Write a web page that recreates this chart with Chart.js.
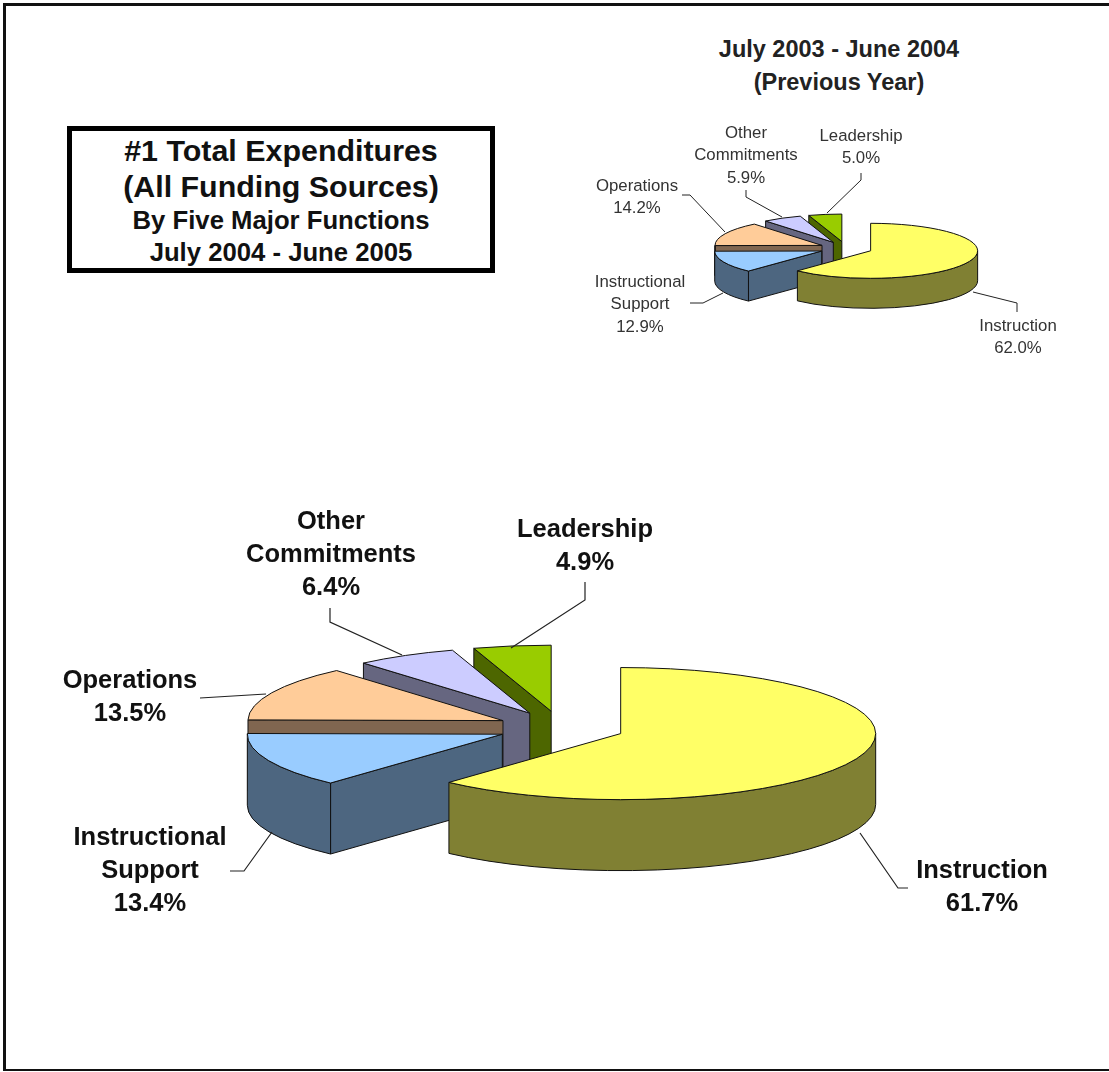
<!DOCTYPE html>
<html><head><meta charset="utf-8">
<script src="https://cdn.jsdelivr.net/npm/chart.js@4"></script>
<style>
html,body{margin:0;padding:0;background:#fff;overflow:hidden}
#page{position:relative;width:1109px;height:1072px;overflow:hidden;background:#fff;font-family:"Liberation Sans",Arial,sans-serif;color:#111;filter:blur(.55px)}
canvas{position:absolute;left:0;top:0}
.frame{position:absolute;background:#111}
#box{position:absolute;left:67px;top:126px;width:418px;height:137px;border:5px solid #000;background:#fff;text-align:center;font-weight:bold}
.t{position:absolute;left:0;right:0;white-space:nowrap}
.prev{position:absolute;left:639px;width:400px;text-align:center;font-weight:bold;font-size:23.5px;line-height:26px;color:#222}
</style></head><body>
<div id="page">
<div class="frame" style="left:3px;top:3px;width:1106px;height:3px"></div>
<div class="frame" style="left:3px;top:3px;width:3px;height:1067px"></div>
<div class="frame" style="left:3px;top:1069px;width:1106px;height:2px"></div>
<div id="box">
<div class="t" style="top:1px;font-size:30.4px;line-height:36px">#1 Total Expenditures</div>
<div class="t" style="top:37px;font-size:30.4px;line-height:36px">(All Funding Sources)</div>
<div class="t" style="top:73px;font-size:25.7px;line-height:32px">By Five Major Functions</div>
<div class="t" style="top:105px;font-size:25.7px;line-height:32px">July 2004 - June 2005</div>
</div>
<div class="prev" style="top:36px">July 2003 - June 2004</div>
<div class="prev" style="top:69px">(Previous Year)</div>
<canvas id="large" width="1109" height="1072"></canvas>
<canvas id="small" width="1109" height="1072"></canvas>
</div>
<script>
const categories = ["Instruction", "Instructional Support", "Operations", "Other Commitments", "Leadership"];
const currentYear = [61.7, 13.4, 13.5, 6.4, 4.9];
const previousYear = [62.0, 12.9, 14.2, 5.9, 5.0];
const topColors = ["#FFFF66", "#99CCFF", "#FFCC99", "#CCCCFF", "#99CC00"];
const wallColors = ["#808033", "#4D6680", "#806650", "#666680", "#4D6600"];

const largeLook = {
  cx: 561, cy: 727.6, radius: 255, squash: 0.259, depth: 71, explode: 64,
  font: 'bold 25.5px "Liberation Sans", Arial, sans-serif', lineGap: 33,
  textColor: '#111', leaderWidth: 1.2,
  anchors: [[982, 871], [150, 838], [130, 681], [331, 522], [585, 530]],
  leaders: [
    [[860, 833], [898, 888], [908, 888]],
    [[230, 871], [244, 871], [272, 832]],
    [[200, 698], [266, 694]],
    [[330, 608], [330, 622], [402, 655]],
    [[585, 582], [585, 600], [511, 648]]
  ]
};
const smallLook = {
  cx: 846, cy: 248.3, radius: 107, squash: 0.257, depth: 30, explode: 26.5,
  font: '16.8px "Liberation Sans", Arial, sans-serif', lineGap: 22.5,
  textColor: '#333', leaderWidth: 1,
  anchors: [[1018, 326], [640, 282], [637, 186], [746, 133], [861, 136]],
  leaders: [
    [[973, 292], [1017, 303], [1017, 312]],
    [[690, 303], [703, 303], [723, 293]],
    [[682, 195], [690, 195], [725, 232]],
    [[746, 190], [746, 197], [782, 217]],
    [[861, 173], [861, 180], [827, 213]]
  ]
};

const pie3d = {
  id: 'pie3d',
  beforeDatasetDraw() { return false; },
  beforeDatasetsDraw(chart, args, look) {
    const ctx = chart.ctx;
    const arcs = chart.getDatasetMeta(0).data;
    const k = look.squash, D = look.depth;
    const geo = arcs.map(a => {
      const mid = (a.startAngle + a.endAngle) / 2;
      return {
        s: a.startAngle, e: a.endAngle, R: a.outerRadius, x0: a.x, y0: a.y,
        x: a.x + look.explode * Math.cos(mid),
        y: a.y + look.explode * Math.sin(mid) * k
      };
    });
    const pt = (g, t) => [g.x + g.R * Math.cos(t), g.y + k * g.R * Math.sin(t)];
    ctx.save();
    ctx.lineWidth = 1;
    ctx.strokeStyle = '#111';
    ctx.lineJoin = 'round';
    // side walls, back to front
    [4, 3, 2, 1, 0].forEach(i => {
      const g = geo[i];
      ctx.fillStyle = wallColors[i];
      const face = t => {
        const p = pt(g, t);
        ctx.beginPath();
        ctx.moveTo(g.x, g.y); ctx.lineTo(p[0], p[1]);
        ctx.lineTo(p[0], p[1] + D); ctx.lineTo(g.x, g.y + D);
        ctx.closePath(); ctx.fill(); ctx.stroke();
      };
      if (Math.cos(g.s) < -1e-6) face(g.s);
      if (Math.cos(g.e) > 1e-6) face(g.e);
      // outer rim: only the part facing the viewer
      const a0 = Math.max(g.s, 0), a1 = Math.min(g.e, Math.PI);
      if (a1 > a0) {
        ctx.beginPath();
        ctx.ellipse(g.x, g.y, g.R, k * g.R, 0, a0, a1);
        ctx.ellipse(g.x, g.y + D, g.R, k * g.R, 0, a1, a0, true);
        ctx.closePath(); ctx.fill(); ctx.stroke();
      }
    });
    // top faces: the library's own arc elements, flattened and moved out
    arcs.forEach((a, i) => {
      const g = geo[i];
      ctx.save();
      ctx.translate(g.x, g.y);
      ctx.scale(1, k);
      ctx.translate(-g.x0, -g.y0);
      a.draw(ctx);
      ctx.restore();
      ctx.beginPath();
      ctx.moveTo(g.x, g.y);
      ctx.ellipse(g.x, g.y, g.R, k * g.R, 0, g.s, g.e);
      ctx.closePath();
      ctx.stroke();
    });
    ctx.restore();
  },
  afterDatasetsDraw(chart, args, look) {
    const ctx = chart.ctx;
    const values = chart.data.datasets[0].data;
    ctx.save();
    ctx.strokeStyle = '#222';
    ctx.lineWidth = look.leaderWidth;
    look.leaders.forEach(line => {
      ctx.beginPath();
      line.forEach((p, j) => j ? ctx.lineTo(p[0], p[1]) : ctx.moveTo(p[0], p[1]));
      ctx.stroke();
    });
    ctx.font = look.font;
    ctx.fillStyle = look.textColor;
    ctx.textAlign = 'center';
    ctx.textBaseline = 'middle';
    chart.data.labels.forEach((name, i) => {
      const lines = name.split(' ').concat(values[i].toFixed(1) + '%');
      lines.forEach((txt, j) => ctx.fillText(txt, look.anchors[i][0], look.anchors[i][1] + j * look.lineGap));
    });
    ctx.restore();
  }
};

function drawPie(id, values, look) {
  const W = 1109, H = 1072;
  new Chart(document.getElementById(id), {
    type: 'pie',
    data: {
      labels: categories,
      datasets: [{ data: values, backgroundColor: topColors, borderWidth: 0, hoverBorderWidth: 0, hoverOffset: 0, offset: 0 }]
    },
    options: {
      responsive: false,
      animation: false,
      events: [],
      layout: { padding: {
        left: look.cx - look.radius, right: W - look.cx - look.radius,
        top: look.cy - look.radius, bottom: H - look.cy - look.radius
      } },
      plugins: { legend: { display: false }, tooltip: { enabled: false }, pie3d: look }
    },
    plugins: [pie3d]
  });
}
drawPie('large', currentYear, largeLook);
drawPie('small', previousYear, smallLook);
</script>
</body></html>
